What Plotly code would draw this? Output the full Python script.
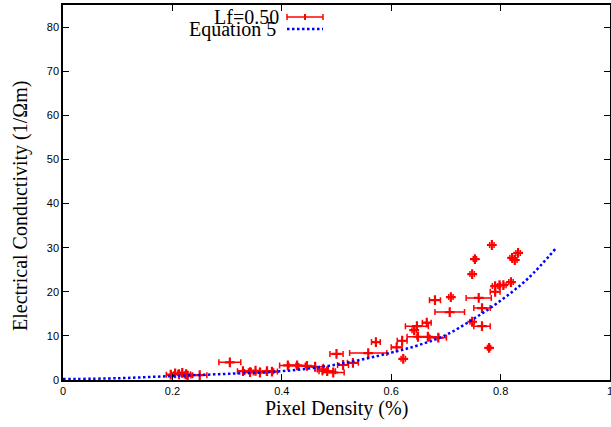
import plotly.graph_objects as go

# Measured data (Lf=0.50): pixel density, conductivity, x error (half-width)
pixel_density = [0.197, 0.205, 0.212, 0.218, 0.225, 0.228, 0.250, 0.305, 0.329, 0.342,
                 0.352, 0.360, 0.373, 0.382, 0.411, 0.428, 0.446, 0.461, 0.475, 0.483,
                 0.494, 0.500, 0.512, 0.530, 0.558, 0.572, 0.610, 0.620, 0.622, 0.642,
                 0.647, 0.649, 0.665, 0.667, 0.680, 0.686, 0.707, 0.709, 0.748, 0.748,
                 0.753, 0.760, 0.766, 0.766, 0.779, 0.784, 0.790, 0.790, 0.798, 0.805,
                 0.819, 0.821, 0.826, 0.832]
conductivity = [1.2, 1.5, 1.3, 1.6, 1.3, 1.0, 1.1, 4.0, 2.0, 1.8,
                2.1, 1.7, 2.0, 1.9, 3.3, 3.3, 3.2, 3.0, 2.4, 2.0,
                1.7, 5.9, 3.4, 3.9, 6.1, 8.6, 7.4, 8.9, 4.8, 11.3,
                12.2, 9.8, 13.0, 9.8, 18.1, 9.6, 15.4, 18.8, 13.2, 24.0,
                27.4, 18.6, 16.3, 12.2, 7.3, 30.6, 20.0, 21.3, 21.5, 21.5,
                22.2, 27.7, 27.2, 28.8]
density_err = [0.008, 0.008, 0.010, 0.008, 0.008, 0.006, 0.013, 0.020, 0.010, 0.010,
               0.008, 0.012, 0.012, 0.010, 0.015, 0.015, 0.015, 0.015, 0.010, 0.015,
               0.020, 0.012, 0.010, 0.010, 0.034, 0.008, 0.010, 0.009, 0.004, 0.004,
               0.021, 0.020, 0.008, 0.020, 0.010, 0.015, 0.027, 0.004, 0.004, 0.004,
               0.003, 0.023, 0.015, 0.015, 0.003, 0.004, 0.009, 0.005, 0.008, 0.005,
               0.004, 0.004, 0.004, 0.004]

# Equation 5 curve
eq_x = [0.0, 0.1, 0.2, 0.3, 0.4, 0.5, 0.6, 0.65, 0.7, 0.75, 0.8, 0.85, 0.9]
eq_y = [0.2, 0.4, 0.9, 1.4, 2.0, 3.5, 6.2, 7.9, 10.2, 13.8, 18.0, 23.0, 29.7]

x_ticks = [0, 0.2, 0.4, 0.6, 0.8, 1]
y_ticks = [0, 10, 20, 30, 40, 50, 60, 70, 80]

fig = go.Figure()
fig.add_trace(go.Scatter(
    x=pixel_density, y=conductivity, mode="markers",
    marker=dict(symbol="cross-thin", size=7, color="red",
                line=dict(color="red", width=2.2)),
    error_x=dict(type="data", array=density_err, color="red", thickness=1.5, width=3),
    showlegend=False))
fig.add_trace(go.Scatter(
    x=eq_x, y=eq_y, mode="lines",
    line=dict(color="blue", width=2.5, dash="2.5px,2.5px", shape="spline"),
    showlegend=False))

# Paper-coordinate helpers (plot area spans pixels 63..610 x 5..380)
def px(v):
    return (v - 63) / 547.0

def py(v):
    return (380 - v) / 375.0

serif = "Liberation Serif, Times New Roman, serif"
sans = "Liberation Sans, Arial, sans-serif"

annotations = [
    dict(x=px(281), y=py(17), xref="paper", yref="paper", text="Lf=0.50",
         showarrow=False, xanchor="right", yanchor="middle",
         font=dict(family=serif, size=20, color="black")),
    dict(x=px(278), y=py(30), xref="paper", yref="paper", text="Equation 5",
         showarrow=False, xanchor="right", yanchor="middle",
         font=dict(family=serif, size=20, color="black")),
    dict(x=px(336), y=py(409), xref="paper", yref="paper", text="Pixel Density (%)",
         showarrow=False, xanchor="center", yanchor="middle",
         font=dict(family=serif, size=20, color="black")),
    dict(x=px(20), y=py(206), xref="paper", yref="paper",
         text="Electrical Conductivity (1/Ωm)", textangle=-90,
         showarrow=False, xanchor="center", yanchor="middle",
         font=dict(family=serif, size=20, color="black")),
]
shapes = [
    dict(type="line", xref="paper", yref="paper", x0=px(287), x1=px(323), y0=py(17), y1=py(17),
         line=dict(color="red", width=1.5)),
    dict(type="line", xref="paper", yref="paper", x0=px(287), x1=px(287), y0=py(14), y1=py(20),
         line=dict(color="red", width=1.5)),
    dict(type="line", xref="paper", yref="paper", x0=px(323), x1=px(323), y0=py(14), y1=py(20),
         line=dict(color="red", width=1.5)),
    dict(type="line", xref="paper", yref="paper", x0=px(305), x1=px(305), y0=py(14), y1=py(20),
         line=dict(color="red", width=2)),
    dict(type="line", xref="paper", yref="paper", x0=px(287), x1=px(323), y0=py(29), y1=py(29),
         line=dict(color="blue", width=2.5, dash="2.5px,2.5px")),
]

fig.update_layout(
    width=611, height=427,
    margin=dict(l=63, r=1, t=5, b=47),
    plot_bgcolor="white", paper_bgcolor="white",
    annotations=annotations, shapes=shapes,
    xaxis=dict(range=[0, 1], tickvals=x_ticks, ticktext=[str(t) for t in x_ticks],
               ticks="inside", ticklen=6, tickcolor="black", tickwidth=1,
               showline=True, linecolor="black", linewidth=1.5, mirror="ticks",
               showgrid=False, zeroline=False, automargin=False,
               ticklabeloverflow="allow",
               tickfont=dict(family=sans, size=11, color="black")),
    yaxis=dict(range=[0, 85], tickvals=y_ticks,
               ticks="inside", ticklen=6, tickcolor="black", tickwidth=1,
               showline=True, linecolor="black", linewidth=1.5, mirror="ticks",
               showgrid=False, zeroline=False, automargin=False,
               tickfont=dict(family=sans, size=11, color="black")),
)

fig.write_html(
    "out.html",
    config={"displayModeBar": False},
    post_script="document.body.style.margin='0';document.body.style.overflow='hidden';",
)
